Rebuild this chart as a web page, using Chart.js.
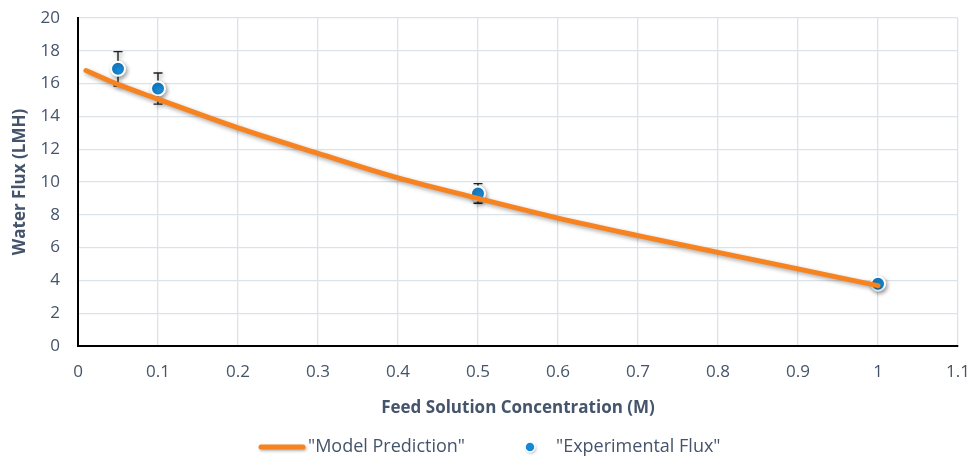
<!DOCTYPE html>
<html lang="en">
<head>
  <meta charset="UTF-8" />
  <title>Water Flux vs Feed Concentration</title>
  <script src="https://cdn.jsdelivr.net/npm/chart.js"></script>
  <style>
    html, body { margin: 0; padding: 0; background: #fff; }
    #wrap { width: 972px; height: 458px; position: relative; }
  </style>
</head>
<body>
  <div id="wrap"><canvas id="fluxChart"></canvas></div>

  <script>
    // model curve
    const modelConc = [0.01, 0.05, 0.1, 0.2, 0.3, 0.4, 0.5, 0.6, 0.7, 0.8, 0.9, 1.0];
    const modelFlux = [16.8, 15.95, 15.05, 13.3, 11.75, 10.25, 9.0, 7.8, 6.73, 5.71, 4.7, 3.68];
    // experimental points + error (±)
    const expConc = [0.05, 0.1, 0.5, 1.0];
    const expFlux = [16.9, 15.7, 9.3, 3.8];
    const expErr = [1.05, 0.95, 0.6, 0.15];
    const xTicks = [0, 0.1, 0.2, 0.3, 0.4, 0.5, 0.6, 0.7, 0.8, 0.9, 1, 1.1];

    const slate = '#44546A';
    const orange = '#F6831F';
    const blue = '#1689D6';
    const font = '"Open Sans", sans-serif';

    const shadow = {
      id: 'shadow',
      beforeDatasetDraw(chart) {
        const ctx = chart.ctx;
        ctx.save();
        ctx.shadowColor = 'rgba(0,0,0,0.35)';
        ctx.shadowBlur = 4;
        ctx.shadowOffsetX = 1.5;
        ctx.shadowOffsetY = 2;
      },
      afterDatasetDraw(chart) {
        chart.ctx.restore();
      }
    };

    const errorBars = {
      id: 'errorBars',
      beforeDatasetDraw(chart, args) {
        if (args.index !== 1) return;
        const ctx = chart.ctx, x = chart.scales.x, y = chart.scales.y;
        ctx.save();
        ctx.strokeStyle = '#1F1F1F';
        ctx.lineWidth = 1.4;
        expConc.forEach((c, i) => {
          const px = x.getPixelForValue(c);
          const top = y.getPixelForValue(expFlux[i] + expErr[i]);
          const bot = y.getPixelForValue(expFlux[i] - expErr[i]);
          ctx.beginPath();
          ctx.moveTo(px, top); ctx.lineTo(px, bot);
          ctx.moveTo(px - 4.5, top); ctx.lineTo(px + 4.5, top);
          ctx.moveTo(px - 4.5, bot); ctx.lineTo(px + 4.5, bot);
          ctx.stroke();
        });
        ctx.restore();
      }
    };

    const legendBox = {
      id: 'legendBox',
      afterDraw(chart) {
        const ctx = chart.ctx;
        const cy = 447;
        ctx.save();
        ctx.font = '18px ' + font;
        ctx.fillStyle = slate;
        ctx.textBaseline = 'middle';
        ctx.shadowColor = 'rgba(0,0,0,0.3)';
        ctx.shadowBlur = 3;
        ctx.shadowOffsetX = 1;
        ctx.shadowOffsetY = 1.5;
        ctx.strokeStyle = orange;
        ctx.lineWidth = 5;
        ctx.lineCap = 'round';
        ctx.beginPath();
        ctx.moveTo(261, cy); ctx.lineTo(303, cy);
        ctx.stroke();
        ctx.beginPath();
        ctx.arc(530, cy, 5, 0, Math.PI * 2);
        ctx.fillStyle = blue;
        ctx.fill();
        ctx.shadowColor = 'transparent';
        ctx.strokeStyle = '#fff';
        ctx.lineWidth = 1.5;
        ctx.stroke();
        ctx.fillStyle = slate;
        ctx.fillText('"Model Prediction"', 308, cy);
        ctx.fillText('"Experimental Flux"', 556, cy);
        ctx.restore();
      }
    };

    new Chart(document.getElementById('fluxChart'), {
      type: 'scatter',
      data: {
        datasets: [{
          label: '"Model Prediction"',
          data: modelConc.map((c, i) => ({x: c, y: modelFlux[i]})),
          showLine: true,
          borderColor: orange,
          borderWidth: 5,
          pointRadius: 0,
          cubicInterpolationMode: 'monotone',
          borderCapStyle: 'round'
        }, {
          label: '"Experimental Flux"',
          data: expConc.map((c, i) => ({x: c, y: expFlux[i]})),
          pointRadius: 7,
          pointBackgroundColor: blue,
          pointBorderColor: '#fff',
          pointBorderWidth: 2
        }]
      },
      options: {
        responsive: true,
        maintainAspectRatio: false,
        animation: false,
        layout: {padding: {top: 18, right: 14, bottom: 36, left: 0}},
        plugins: {legend: {display: false}, tooltip: {enabled: false}},
        scales: {
          x: {
            type: 'linear', min: 0, max: 1.1,
            afterBuildTicks: s => { s.ticks = xTicks.map(v => ({value: v})); },
            afterFit: s => { s.height = 76; s.paddingLeft = 0; s.paddingRight = 0; },
            grid: {color: '#DCE2EA', lineWidth: 1.3, drawTicks: false},
            border: {color: '#000', width: 2},
            ticks: {padding: 16, color: slate, font: {family: font, size: 17}, callback: v => String(+v.toFixed(1))},
            title: {display: true, text: 'Feed Solution Concentration (M)', color: slate,
              font: {family: font, size: 17, weight: 'bold'}, padding: {top: 6}}
          },
          y: {
            min: 0, max: 20,
            ticks: {stepSize: 2, padding: 18, color: slate, font: {family: font, size: 17}},
            afterFit: s => { s.width = 78; s.paddingTop = 0; s.paddingBottom = 0; },
            grid: {color: '#DCE2EA', lineWidth: 1.3, drawTicks: false},
            border: {color: '#000', width: 2},
            title: {display: true, text: 'Water Flux (LMH)', color: slate,
              font: {family: font, size: 17, weight: 'bold'}, padding: {top: 10, bottom: 0}}
          }
        }
      },
      plugins: [shadow, errorBars, legendBox]
    });
  </script>
</body>
</html>
